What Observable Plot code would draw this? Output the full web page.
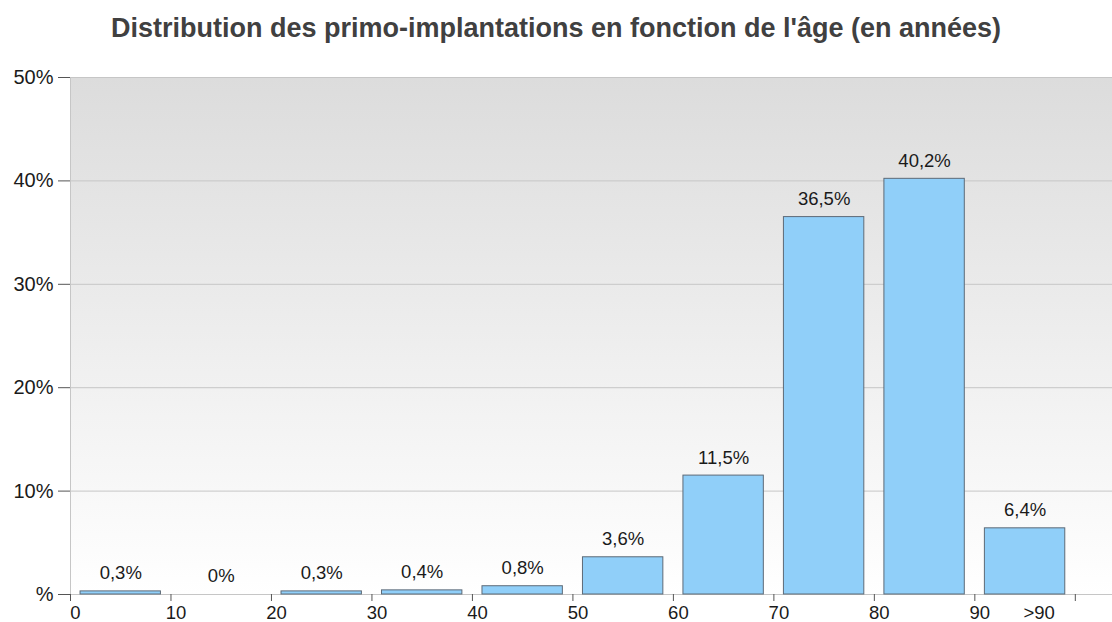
<!DOCTYPE html>
<html>
<head>
<meta charset="utf-8">
<script src="https://cdn.jsdelivr.net/npm/d3@7"></script>
<script src="https://cdn.jsdelivr.net/npm/@observablehq/plot@0.6"></script>
<style>
  html, body { margin: 0; padding: 0; background: #ffffff; }
  #title { width: 1112px; height: 50px; line-height: 56px; text-align: center;
           font-family: Arial, "Liberation Sans", sans-serif; font-weight: bold;
           font-size: 27px; color: #404040; white-space: nowrap; }
  svg { display: block; }
</style>
</head>
<body>
<div id="title">Distribution des primo-implantations en fonction de l'âge (en années)</div>
<div id="chart"></div>
<script>
const ageStarts = [0, 10, 20, 30, 40, 50, 60, 70, 80, 90];
const percentages = [0.3, 0, 0.3, 0.4, 0.8, 3.6, 11.5, 36.5, 40.2, 6.4];
const valueLabels = ["0,3%", "0%", "0,3%", "0,4%", "0,8%", "3,6%", "11,5%", "36,5%", "40,2%", "6,4%"];
const xTickValues = [0, 10, 20, 30, 40, 50, 60, 70, 80, 90, 100];
const xLabelValues = [0, 10, 20, 30, 40, 50, 60, 70, 80, 90];
const xLabelTexts = ["0", "10", "20", "30", "40", "50", "60", "70", "80", "90"];
const lastLabelValue = [96.4];
const lastLabelText = [">90"];
const yTickValues = [0, 10, 20, 30, 40, 50];
const yTickLabels = ["%", "10%", "20%", "30%", "40%", "50%"];

const data = ageStarts.map((s, i) => ({start: s, value: percentages[i], label: valueLabels[i]}));
const xLabels = xLabelValues.map((v, i) => ({x: v, text: xLabelTexts[i]}));
const lastLabel = lastLabelValue.map((v, i) => ({x: v, text: lastLabelText[i]}));

const svg = Plot.plot({
  width: 1112,
  height: 572,
  marginLeft: 70,
  marginRight: 0,
  marginTop: 27,
  marginBottom: 28,
  x: {domain: [0, 103.7], axis: null},
  y: {domain: [0, 50], axis: null},
  style: {fontFamily: "Arial, 'Liberation Sans', sans-serif", fontSize: "19px", background: "transparent", overflow: "visible"},
  marks: [
    Plot.frame({fill: "url(#bgGrad)", stroke: null}),
    Plot.ruleY(yTickValues.filter(d => d > 0), {stroke: "#c6c6c6", strokeWidth: 1}),
    Plot.ruleX([0], {stroke: "#c6c6c6"}),
    Plot.ruleY([0], {stroke: "#c6c6c6"}),
    Plot.rectY(data.filter(d => d.value > 0), {
      x1: d => d.start + 1, x2: d => d.start + 9, y: "value",
      fill: "#90cff9", stroke: "#5d6a77", strokeWidth: 1
    }),
    Plot.text(data, {x: d => d.start + 5, y: "value", text: "label", dy: -18, fill: "#1a1a1a", fontSize: 18.5}),
    Plot.axisY({ticks: yTickValues, tickFormat: d => yTickLabels[yTickValues.indexOf(d)],
                tickSize: 12, tickPadding: 5, stroke: "#555", fill: "#1a1a1a", fontSize: 20, label: null}),
    Plot.axisX({ticks: xTickValues, tickFormat: () => "", tickSize: 7, stroke: "#555", label: null}),
    Plot.text(xLabels, {x: "x", y: 0, text: "text", dx: 5, dy: 19, fill: "#1a1a1a", fontSize: 18.5}),
    Plot.text(lastLabel, {x: "x", y: 0, text: "text", dy: 19, fill: "#1a1a1a", fontSize: 18.5})
  ]
});

const defs = d3.select(svg).insert("defs", ":first-child");
const grad = defs.append("linearGradient").attr("id", "bgGrad")
  .attr("x1", 0).attr("y1", 0).attr("x2", 0).attr("y2", 1);
grad.append("stop").attr("offset", "0%").attr("stop-color", "#dcdcdc");
grad.append("stop").attr("offset", "100%").attr("stop-color", "#ffffff");

document.getElementById("chart").appendChild(svg);
</script>
</body>
</html>
